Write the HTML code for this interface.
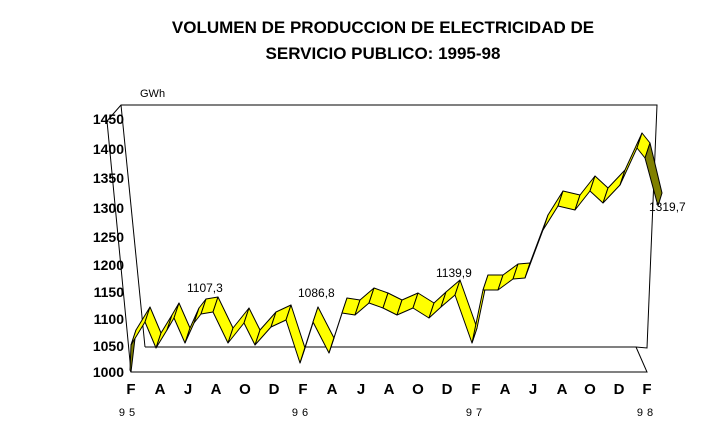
<!DOCTYPE html>
<html><head><style>
body{margin:0;background:#fff;}
svg{display:block;font-family:"Liberation Sans",Arial,sans-serif;}
</style></head><body>
<svg width="727" height="442" viewBox="0 0 727 442">
<rect width="727" height="442" fill="#fff"/>
<text x="383" y="33" font-size="17" font-weight="bold" text-anchor="middle">VOLUMEN DE PRODUCCION DE ELECTRICIDAD DE</text>
<text x="383" y="59" font-size="17" font-weight="bold" text-anchor="middle">SERVICIO PUBLICO: 1995-98</text>
<text x="140" y="97" font-size="11">GWh</text>
<g font-size="14" font-weight="bold" text-anchor="end">
<text x="124" y="124">1450</text><text x="124" y="154">1400</text><text x="124" y="183">1350</text>
<text x="124" y="213">1300</text><text x="124" y="242">1250</text><text x="124" y="270">1200</text>
<text x="124" y="297">1150</text><text x="124" y="324">1100</text><text x="124" y="351">1050</text>
<text x="124" y="377">1000</text>
</g>
<g fill="none" stroke="#000" stroke-width="1">
<polyline points="107,121 121,105 657,105 647,348 636,347 145,347"/>
<line x1="121" y1="105" x2="145" y2="347"/>
<polyline points="107,121 131,372 647,372 636,347"/>
</g>
<g id="rib" stroke="#000" stroke-width="1" stroke-linejoin="round" fill="#ffff00"></g>
<g font-size="12">
<text x="187" y="292">1107,3</text><text x="298" y="297">1086,8</text>
<text x="436" y="277">1139,9</text><text x="649" y="211">1319,7</text>
</g>
<g font-size="15" font-weight="bold" text-anchor="middle">
<text x="131" y="394">F</text><text x="160" y="394">A</text><text x="188" y="394">J</text>
<text x="216" y="394">A</text><text x="245" y="394">O</text><text x="274" y="394">D</text>
<text x="303" y="394">F</text><text x="332" y="394">A</text><text x="361" y="394">J</text>
<text x="389" y="394">A</text><text x="418" y="394">O</text><text x="447" y="394">D</text>
<text x="476" y="394">F</text><text x="505" y="394">A</text><text x="533" y="394">J</text>
<text x="562" y="394">A</text><text x="590" y="394">O</text><text x="619" y="394">D</text>
<text x="647" y="394">F</text>
</g>
<g font-size="11" text-anchor="middle" letter-spacing="4">
<text x="129" y="416">95</text><text x="302" y="416">96</text><text x="476" y="416">97</text><text x="647" y="416">98</text>
</g>
</svg>
<script>
var P=[[136,330],[150,307],[161,333],[172,315],[179,303],[190,328],[199,308],[206,299],[218,297],[233,328],[249,308],[260,330],[276,312],[291,305],[305,348],[318,307],[334,338],[347,298],[360,300],[374,288],[388,293],[402,300],[418,293],[434,303],[446,292],[460,280],[477,328],[488,275],[503,275],[518,264],[530,263],[548,215],[563,191],[580,195],[595,176],[608,188],[625,170],[642,133],[650,143]];
var dx=-5,dy=15,g=document.getElementById('rib'),ns='http://www.w3.org/2000/svg';
function poly(pts,fill){var p=document.createElementNS(ns,'polygon');p.setAttribute('points',pts.map(function(a){return a.join(',')}).join(' '));if(fill)p.setAttribute('fill',fill);g.appendChild(p);}
poly([[131,372],[136,330],[131,345],[130,370]],'#808000');
for(var i=0;i<P.length-1;i++){var a=P[i],b=P[i+1];poly([a,b,[b[0]+dx,b[1]+dy],[a[0]+dx,a[1]+dy]]);}
poly([[650,143],[662,193],[658,206],[645,158]],'#808000');
</script>
</body></html>
